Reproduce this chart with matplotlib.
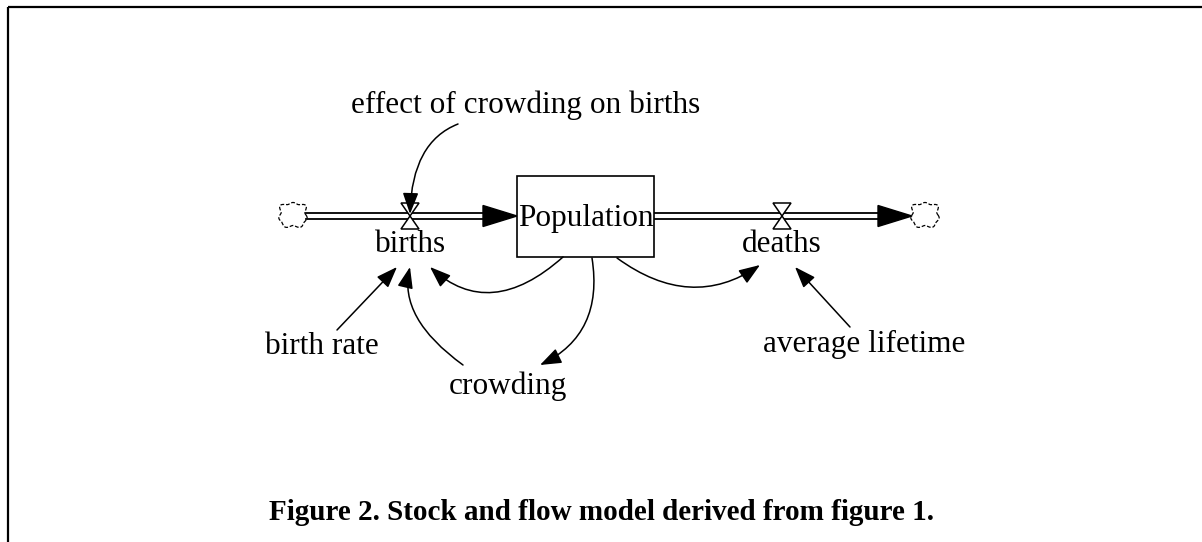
import numpy as np
import matplotlib
matplotlib.use("Agg")
import matplotlib.pyplot as plt
from matplotlib.patches import Polygon, Rectangle, FancyArrowPatch
from matplotlib.path import Path

plt.rcParams['font.family'] = ['Liberation Serif', 'DejaVu Serif']

# diagram content (pixel coords of the reference, y grows downwards)
stock_name = "Population"
stock_box = (517, 176, 654, 257)          # left, top, right, bottom
flow_names = ["births", "deaths"]
flow_valve_x = [410, 782]
flow_y = 216
cloud_x = [293, 925]
flow_label_pos = [(411, 244), (782, 245)]

aux_names = ["effect of crowding on births", "birth rate", "crowding", "average lifetime"]
aux_pos = [(526, 105), (322, 346), (508, 386), (864, 344)]

# info links: start, control (None = straight), tip
links = [
    ((458, 124), (412, 142), (410, 214)),     # effect -> births
    ((563, 257), (490, 322), (430, 267)),     # Population -> births
    ((592, 258), (604, 334), (540, 365)),     # Population -> crowding
    ((463, 365), (398, 318), (410, 267)),     # crowding -> births
    ((337, 330), None, (397, 267)),           # birth rate -> births
    ((617, 258), (691, 312), (760, 265)),     # Population -> deaths
    ((850, 327), None, (795, 267)),           # average lifetime -> deaths
]

caption = "Figure 2. Stock and flow model derived from figure 1."

fig = plt.figure(figsize=(12.02, 5.42), dpi=100)
ax = fig.add_axes([0, 0, 1, 1])
ax.set_xlim(0, 1202)
ax.set_ylim(542, 0)
ax.axis("off")

# page frame (top + left only)
ax.plot([8, 1202], [7, 7], color="black", lw=1.6, solid_capstyle="butt")
ax.plot([8, 8], [7, 542], color="black", lw=1.6, solid_capstyle="butt")


def cloud(cx, cy):
    # bumpy squarish outline, dashed
    t = np.linspace(0, 2 * np.pi, 240)
    r = 1 + 0.09 * np.sin(7 * t)
    c, s = np.cos(t), np.sin(t)
    sq = 1 / (np.abs(c) ** 4 + np.abs(s) ** 4) ** 0.25
    xs = cx + 13 * r * sq * c
    ys = cy + 11.5 * r * sq * s
    ax.plot(xs, ys, color="black", lw=0.9, ls=(0, (3, 1.5)))


def pipe(x0, x1, y):
    # double line with big filled head at x1
    ax.plot([x0, x1 - 30], [y - 3, y - 3], color="black", lw=1.3)
    ax.plot([x0, x1 - 30], [y + 3, y + 3], color="black", lw=1.3)
    ax.add_patch(Polygon([(x1 - 34, y - 10.5), (x1, y), (x1 - 34, y + 10.5)],
                         closed=True, facecolor="black", edgecolor="black", lw=1))


def valve(x, y):
    for s in (-1, 1):
        ax.add_patch(Polygon([(x - 9, y + s * 13), (x + 9, y + s * 13), (x, y)],
                             closed=True, facecolor="white", edgecolor="black",
                             lw=1.1, zorder=3))


l, t, r, b = stock_box
pipe(cloud_x[0] + 13, l, flow_y)
pipe(r, cloud_x[1] - 13, flow_y)
for cx in cloud_x:
    cloud(cx, flow_y - 1)
for vx in flow_valve_x:
    valve(vx, flow_y)

ax.add_patch(Rectangle((l, t), r - l, b - t, facecolor="white",
                       edgecolor="black", lw=1.2, zorder=2))
ax.text((l + r) / 2, (t + b) / 2 + 2, stock_name, ha="center", va="center",
        fontsize=22.5, zorder=4)

for name, (x, y) in zip(flow_names, flow_label_pos):
    ax.text(x, y, name, ha="center", va="center", fontsize=22.5)
for name, (x, y) in zip(aux_names, aux_pos):
    ax.text(x, y, name, ha="center", va="center", fontsize=22.5)

for p0, c, p1 in links:
    if c is None:
        path = Path([p0, p1], [Path.MOVETO, Path.LINETO])
    else:
        path = Path([p0, c, p1], [Path.MOVETO, Path.CURVE3, Path.CURVE3])
    ax.add_patch(FancyArrowPatch(path=path,
                                 arrowstyle="-|>,head_length=0.65,head_width=0.24",
                                 mutation_scale=20, color="black", lw=1.1,
                                 zorder=5))

ax.text(269, 513, caption, ha="left", va="center", fontsize=21,
        fontweight="bold")

fig.savefig("out.png", dpi=100)
